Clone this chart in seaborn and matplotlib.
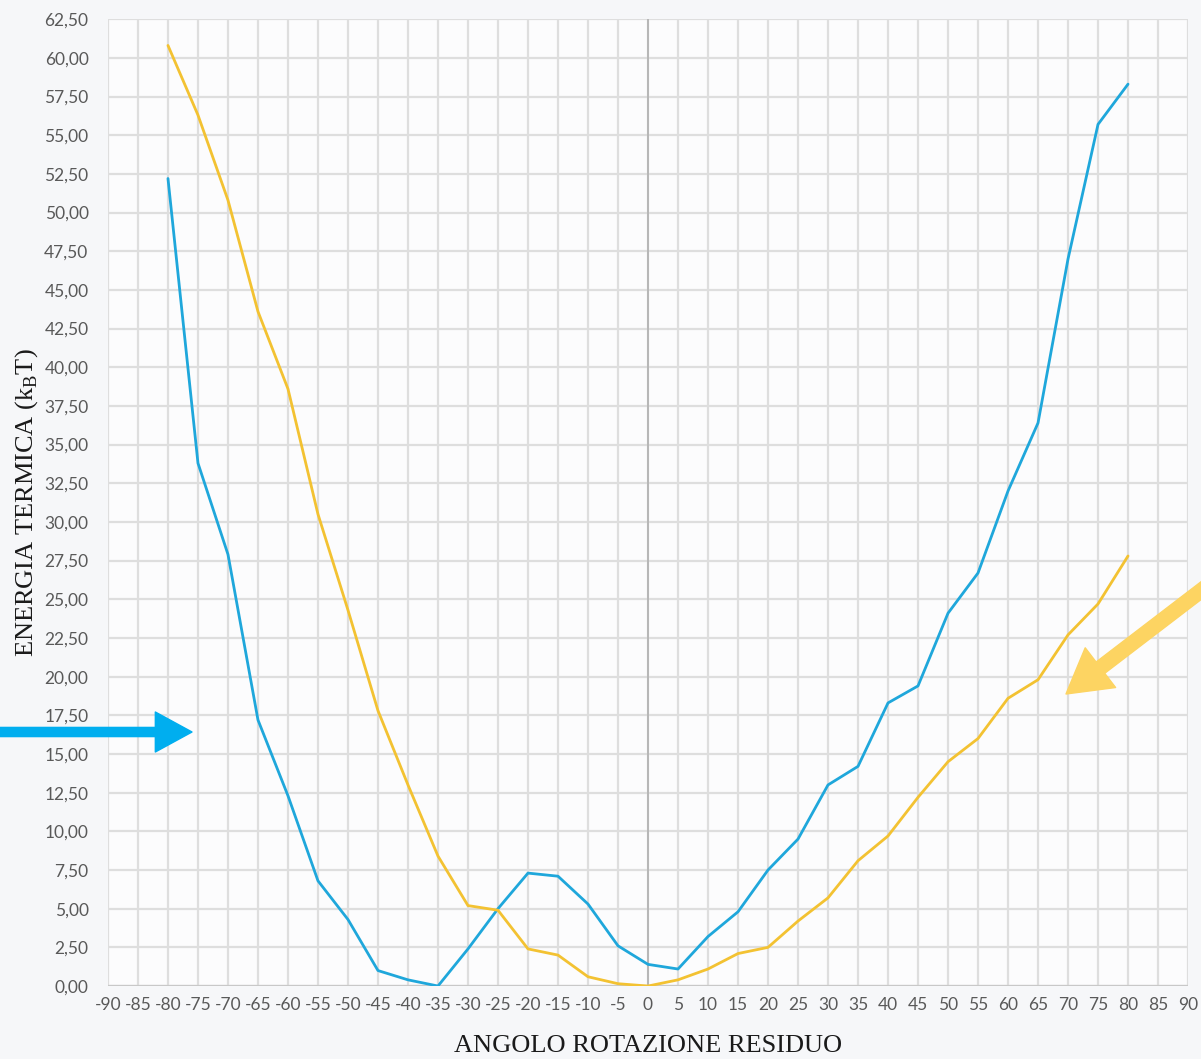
import matplotlib

matplotlib.use("Agg")
import matplotlib.pyplot as plt
import numpy as np
import pandas as pd
import seaborn as sns
from matplotlib.ticker import FuncFormatter, MultipleLocator

# angle (degrees) and thermal energy (kBT) for the two conformations
angoli = [-80, -75, -70, -65, -60, -55, -50, -45, -40, -35, -30, -25, -20,
          -15, -10, -5, 0, 5, 10, 15, 20, 25, 30, 35, 40, 45, 50, 55, 60,
          65, 70, 75, 80]
energia_blu = [52.2, 33.8, 27.9, 17.2, 12.3, 6.8, 4.3, 1.0, 0.4, 0.0, 2.4,
               5.0, 7.3, 7.1, 5.3, 2.6, 1.4, 1.1, 3.2, 4.8, 7.5, 9.5, 13.0,
               14.2, 18.3, 19.4, 24.1, 26.7, 32.0, 36.4, 47.0, 55.7, 58.3]
energia_gialla = [60.8, 56.3, 50.8, 43.6, 38.6, 30.5, 24.3, 17.8, 13.0, 8.4,
                  5.2, 4.9, 2.4, 2.0, 0.6, 0.15, 0.0, 0.4, 1.1, 2.1, 2.5, 4.2,
                  5.7, 8.1, 9.7, 12.2, 14.5, 16.0, 18.6, 19.8, 22.7, 24.7, 27.8]

BLU = "#1fa7db"
GIALLO = "#f3c232"

sns.set_theme(style="whitegrid")
plt.rcParams["font.family"] = ["Lato", "DejaVu Sans"]

df = pd.DataFrame({
    "angolo": angoli * 2,
    "energia": energia_blu + energia_gialla,
    "serie": ["blu"] * len(angoli) + ["gialla"] * len(angoli),
})

fig = plt.figure(figsize=(12.01, 10.59), dpi=100, facecolor="#f6f7f9")
ax = fig.add_axes([0.0899, 0.0689, 0.8993, 0.913])
ax.set_facecolor("#fcfcfd")

sns.lineplot(data=df, x="angolo", y="energia", hue="serie",
             palette={"blu": BLU, "gialla": GIALLO}, linewidth=2.0,
             legend=False, ax=ax, zorder=3)

ax.set_xlim(-90, 90)
ax.set_ylim(0, 62.5)
ax.xaxis.set_major_locator(MultipleLocator(5))
ax.yaxis.set_major_locator(MultipleLocator(2.5))
ax.yaxis.set_major_formatter(FuncFormatter(lambda v, p: f"{v:.2f}".replace(".", ",")))
ax.xaxis.set_major_formatter(FuncFormatter(lambda v, p: f"{v:.0f}"))

ax.grid(True, color="#dedede", linewidth=1.6)
for s in ax.spines.values():
    s.set_visible(False)
ax.axvline(0, color="#b0b0b0", linewidth=1.2, zorder=2)
ax.axhline(0, color="#c8c8c8", linewidth=1.6, zorder=2)

ax.tick_params(axis="both", length=0, labelsize=12.5, labelcolor="#595959")
ax.tick_params(axis="y", pad=14)
ax.tick_params(axis="x", pad=8)

serif = ["Liberation Serif", "DejaVu Serif"]
ax.set_xlabel("ANGOLO ROTAZIONE RESIDUO", family=serif, fontsize=19,
              color="#1a1a1a", labelpad=16)
ax.set_ylabel(r"ENERGIA TERMICA (k$_\mathregular{B}$T)", family=serif,
              fontsize=19, color="#1a1a1a", labelpad=3)

# decorative arrows pointing at the two curves
ax.annotate("", xy=(192, 1059 - 732), xycoords="figure pixels",
            xytext=(0, 1059 - 732), textcoords="figure pixels",
            arrowprops=dict(arrowstyle="simple,head_width=2.4,head_length=2.2,tail_width=0.55",
                            color="#00aeef", shrinkA=0, shrinkB=0),
            annotation_clip=False)
ax.annotate("", xy=(1066, 1059 - 694), xycoords="figure pixels",
            xytext=(1215, 1059 - 580), textcoords="figure pixels",
            arrowprops=dict(arrowstyle="simple,head_width=3.0,head_length=2.6,tail_width=0.85",
                            color="#fdd462", shrinkA=0, shrinkB=0),
            annotation_clip=False)

fig.savefig("out.png", dpi=100, facecolor=fig.get_facecolor())
